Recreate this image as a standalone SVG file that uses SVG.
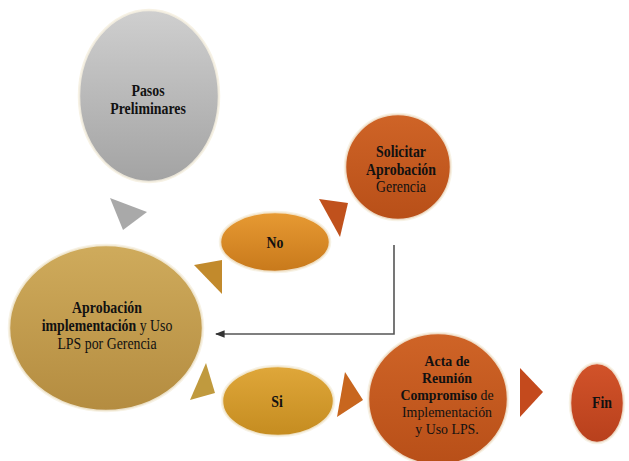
<svg xmlns="http://www.w3.org/2000/svg" width="629" height="461" viewBox="0 0 629 461">
  <defs>
    <linearGradient id="gGray" x1="0" y1="0" x2="0" y2="1">
      <stop offset="0" stop-color="#cfcfcf"/>
      <stop offset="1" stop-color="#a3a3a3"/>
    </linearGradient>
    <linearGradient id="gTan" x1="0" y1="0" x2="0" y2="1">
      <stop offset="0" stop-color="#cfab5c"/>
      <stop offset="1" stop-color="#b48c40"/>
    </linearGradient>
    <linearGradient id="gOrange" x1="0" y1="0" x2="0" y2="1">
      <stop offset="0" stop-color="#e79a33"/>
      <stop offset="1" stop-color="#c8791b"/>
    </linearGradient>
    <linearGradient id="gGold" x1="0" y1="0" x2="0" y2="1">
      <stop offset="0" stop-color="#dfa73a"/>
      <stop offset="1" stop-color="#c58c20"/>
    </linearGradient>
    <linearGradient id="gRust" x1="0" y1="0" x2="0" y2="1">
      <stop offset="0" stop-color="#cf6427"/>
      <stop offset="1" stop-color="#b84f18"/>
    </linearGradient>
    <linearGradient id="gRed" x1="0" y1="0" x2="0" y2="1">
      <stop offset="0" stop-color="#d2532a"/>
      <stop offset="1" stop-color="#b8401c"/>
    </linearGradient>
    <marker id="arrow" viewBox="0 0 10 10" refX="9" refY="5" markerWidth="6" markerHeight="6" orient="auto-start-reverse">
      <path d="M0,1 L10,5 L0,9 z" fill="#333"/>
    </marker>
  </defs>
  <style>
    .bevel { stroke: #f6f0e0; stroke-width: 2.5; stroke-opacity: 0.85; }
    .t { font-family: "Liberation Serif", "Times New Roman", serif; font-size: 16.5px; fill: #111; text-anchor: middle; }
    .s { font-size: 14.6px; }
    .b { font-weight: bold; }
    .line { fill: none; stroke: #555; stroke-width: 1.6; }
  </style>

  <!-- direction triangles -->
  <g id="pointers">
    <polygon points="110,198 147,212 123,230" fill="#a9a9a9"/>
    <polygon points="194,265 222,260 222,294" fill="#c28a2c"/>
    <polygon points="319,199 348,203 340,237" fill="#c0511c"/>
    <polygon points="206,363 215,393 190,400" fill="#c09a3e"/>
    <polygon points="345,372 363,400 337,417" fill="#c8661e"/>
    <polygon points="520,368 543,392 520,417" fill="#c44a1d"/>
  </g>

  <!-- connector: return from Solicitar Aprobación back to Aprobación -->
  <g id="connectors">
    <polyline class="line" points="394,245 394,334 216,334" marker-end="url(#arrow)"/>
  </g>

  <g id="pasos">
    <ellipse cx="149" cy="96" rx="70" ry="86" fill="url(#gGray)" class="bevel"/>
    <g transform="translate(148 0) scale(0.84 1)">
      <text class="t b" x="0" y="96">Pasos</text>
      <text class="t b" x="0" y="114">Preliminares</text>
    </g>
  </g>

  <g id="aprobacion">
    <ellipse cx="106" cy="328" rx="97" ry="83" fill="url(#gTan)" class="bevel"/>
    <g transform="translate(107 0) scale(0.84 1)">
      <text class="t b" x="0" y="313">Aprobación</text>
      <text class="t" x="0" y="331"><tspan class="b">implementación</tspan>  y Uso</text>
      <text class="t" x="0" y="349">LPS por Gerencia</text>
    </g>
  </g>

  <g id="no">
    <ellipse cx="275" cy="242" rx="55" ry="30" fill="url(#gOrange)" class="bevel"/>
    <g transform="translate(275 0) scale(0.84 1)">
      <text class="t b" x="0" y="248">No</text>
    </g>
  </g>

  <g id="solicitar">
    <ellipse cx="398" cy="167" rx="53" ry="53" fill="url(#gRust)" class="bevel"/>
    <g transform="translate(401 0) scale(0.84 1)">
      <text class="t b" x="0" y="157">Solicitar</text>
      <text class="t b" x="0" y="175">Aprobación</text>
      <text class="t" x="0" y="192">Gerencia</text>
    </g>
  </g>

  <g id="si">
    <ellipse cx="278" cy="401" rx="56" ry="35" fill="url(#gGold)" class="bevel"/>
    <g transform="translate(277 0) scale(0.84 1)">
      <text class="t b" x="0" y="407">Si</text>
    </g>
  </g>

  <g id="acta">
    <ellipse cx="438" cy="399" rx="70" ry="66" fill="url(#gRust)" class="bevel"/>
    <g transform="translate(447 0) scale(0.95 1)">
      <text class="t s b" x="0" y="366">Acta de</text>
      <text class="t s b" x="0" y="383">Reunión</text>
      <text class="t s" x="0" y="400"><tspan class="b">Compromiso</tspan> de</text>
      <text class="t s" x="0" y="417">Implementación</text>
      <text class="t s" x="0" y="434">y Uso LPS.</text>
    </g>
  </g>

  <g id="fin">
    <ellipse cx="597" cy="403" rx="27" ry="40" fill="url(#gRed)" class="bevel"/>
    <g transform="translate(602 0) scale(0.84 1)">
      <text class="t b" x="0" y="408">Fin</text>
    </g>
  </g>
</svg>
